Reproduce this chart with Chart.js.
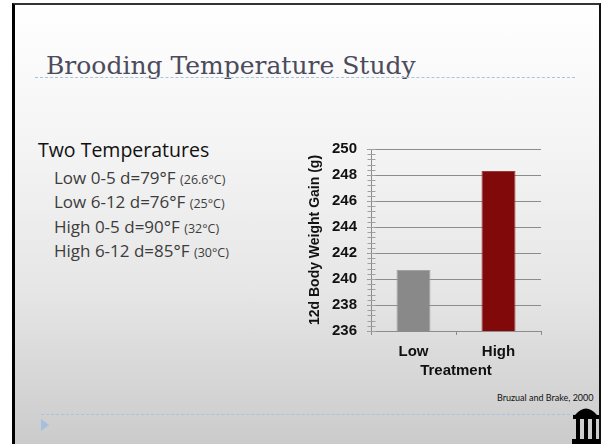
<!DOCTYPE html>
<html>
<head>
<meta charset="utf-8">
<script src="https://cdn.jsdelivr.net/npm/chart.js@4/dist/chart.umd.min.js"></script>
<style>
  html, body { margin: 0; padding: 0; }
  body { width: 602px; height: 444px; overflow: hidden; background: #ffffff; position: relative; }
  #slide {
    position: absolute; left: 12px; top: 3px; width: 589px; height: 441px;
    box-sizing: border-box;
    background: linear-gradient(#ffffff 0%, #f3f3f3 35%, #e6e6e6 65%, #cbcbcb 100%);
    border-left: 3px solid #000; border-top: 2px solid #333; border-right: 2px solid #111;
  }
  .abs { position: absolute; white-space: nowrap; }
  #title { left: 46px; top: 51px; font-family: "DejaVu Serif", "Liberation Serif", serif; font-size: 25px; color: #4b4b5b; }
  .dots { position: absolute; height: 0; border-top: 1px dashed #a9c3dc; }
  #sub { left: 38px; top: 136px; font-family: "Open Sans", Lato, sans-serif; font-size: 19.5px; color: #111; }
  .item { left: 54px; font-family: "Open Sans", Lato, sans-serif; font-size: 17px; color: #3c3c3c; }
  .item small { font-size: 12.5px; }
  #cite { left: 497px; top: 392px; font-family: Lato, "Open Sans", sans-serif; font-size: 9px; color: #111; }
  #tri { position: absolute; left: 41px; top: 419px; width: 0; height: 0;
         border-top: 6px solid transparent; border-bottom: 6px solid transparent; border-left: 8px solid #a6bfdc; }
  #chartBox { position: absolute; left: 300px; top: 130px; width: 250px; height: 250px; }
</style>
</head>
<body>
<div id="slide"></div>
<div id="title" class="abs">Brooding Temperature Study</div>
<div class="dots" style="left:35px; top:77px; width:540px;"></div>
<div id="sub" class="abs">Two Temperatures</div>
<div class="abs item" style="top:166px;">Low 0-5 d=79°F <small>(26.6°C)</small></div>
<div class="abs item" style="top:190px;">Low 6-12 d=76°F <small>(25°C)</small></div>
<div class="abs item" style="top:215px;">High 0-5 d=90°F <small>(32°C)</small></div>
<div class="abs item" style="top:239px;">High 6-12 d=85°F <small>(30°C)</small></div>
<div id="cite" class="abs">Bruzual and Brake, 2000</div>
<div class="dots" style="left:41px; top:414px; width:534px;"></div>
<div id="tri"></div>
<svg class="abs" style="left:571px; top:403px;" width="30" height="41" viewBox="0 0 30 41">
  <path d="M4 12 Q15 -1 26 12 Z" fill="#000"/>
  <rect x="2" y="12" width="26" height="4" fill="#000"/>
  <rect x="5" y="16" width="4" height="20" fill="#000"/>
  <rect x="13" y="16" width="4" height="20" fill="#000"/>
  <rect x="21" y="16" width="4" height="20" fill="#000"/>
  <rect x="1" y="36" width="28" height="5" fill="#000"/>
</svg>
<div id="chartBox"><canvas id="c" width="250" height="250"></canvas></div>
<script>
// Treatment groups and 12-day body weight gain (g)
const categories = ['Low', 'High'];
const weightGain = [240.7, 248.3];
const barColors = ['#898989', '#810909'];
const barEdges = ['#a2a2a2', '#9b3a3a'];
const yTickValues = [236, 238, 240, 242, 244, 246, 248, 250];
const yTitle = '12d Body Weight Gain (g)';
const xTitle = 'Treatment';

// small ticks between the labelled ones on the value axis
const minorTicks = {
  id: 'minorTicks',
  afterDraw(chart) {
    const s = chart.scales.y;
    const ctx = chart.ctx;
    const step = (yTickValues[1] - yTickValues[0]) / 5;
    const x = Math.round(s.right) + 0.5;
    ctx.save();
    ctx.strokeStyle = '#a0a0a0';
    ctx.lineWidth = 1;
    for (let v = s.min; v <= s.max + 1e-6; v += step) {
      const py = Math.round(s.getPixelForValue(v)) + 0.5;
      ctx.beginPath();
      ctx.moveTo(x - 4, py);
      ctx.lineTo(x + 4, py);
      ctx.stroke();
    }
    ctx.restore();
  }
};

const axisFont = { family: '"Liberation Sans", Arial, sans-serif', size: 15, weight: 'bold' };

new Chart(document.getElementById('c'), {
  type: 'bar',
  data: {
    labels: categories,
    datasets: [{
      data: weightGain,
      backgroundColor: barColors,
      borderColor: barEdges,
      borderWidth: 1,
      barPercentage: 0.4,
      categoryPercentage: 1.0
    }]
  },
  options: {
    responsive: false,
    devicePixelRatio: 1,
    animation: false,
    layout: { padding: { top: 17, right: 9, left: 0, bottom: 0 } },
    plugins: { legend: { display: false }, tooltip: { enabled: false } },
    scales: {
      x: {
        offset: true,
        grid: { display: true, drawOnChartArea: false, drawTicks: true, tickLength: 4, offset: true, color: '#8c8c8c' },
        border: { color: '#8c8c8c' },
        ticks: { font: axisFont, color: '#111', padding: 8 },
        title: { display: true, text: xTitle, font: axisFont, color: '#111', padding: { top: 0, bottom: 0 } },
        afterFit(scale) { scale.height = 49; }
      },
      y: {
        min: yTickValues[0],
        max: yTickValues[yTickValues.length - 1],
        afterBuildTicks(scale) { scale.ticks = yTickValues.map(v => ({ value: v })); },
        grid: { color: '#8c8c8c', tickLength: 4, drawTicks: true },
        border: { color: '#8c8c8c' },
        ticks: { font: axisFont, color: '#111', padding: 10 },
        title: { display: true, text: yTitle, font: { family: axisFont.family, size: 14, weight: 'bold' }, color: '#111', padding: { top: 7, bottom: 0 } },
        afterFit(scale) { scale.width = 71; }
      }
    }
  },
  plugins: [minorTicks]
});
</script>
</body>
</html>
